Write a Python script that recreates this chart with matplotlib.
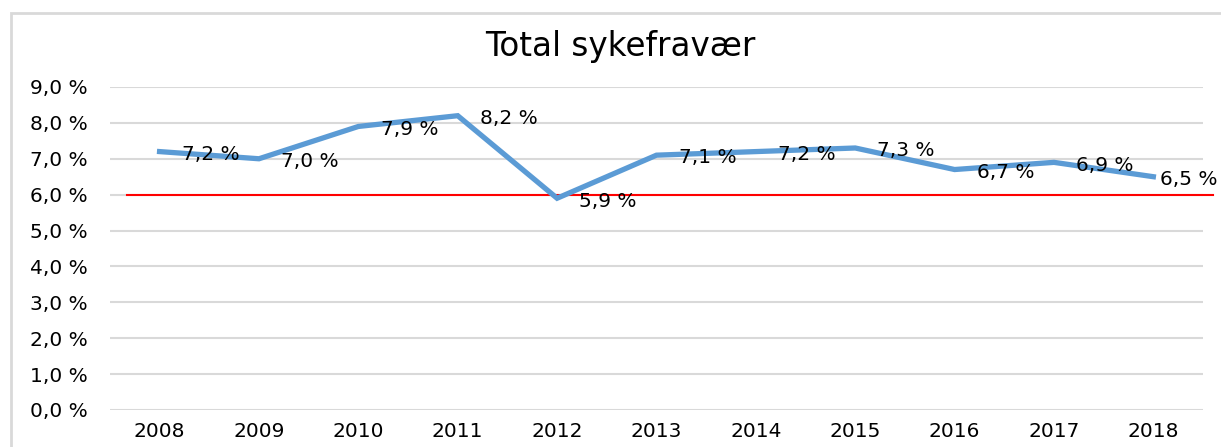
import matplotlib.pyplot as plt
from matplotlib.patches import Rectangle

# data
years = ['2008', '2009', '2010', '2011', '2012', '2013', '2014', '2015', '2016', '2017', '2018']
sick_leave = [7.2, 7.0, 7.9, 8.2, 5.9, 7.1, 7.2, 7.3, 6.7, 6.9, 6.5]
target = 6.0
yticks = [0, 1, 2, 3, 4, 5, 6, 7, 8, 9]

plt.rcParams['font.family'] = ['DejaVu Sans']

fig = plt.figure(figsize=(12.21, 4.47), dpi=100)
ax = fig.add_axes([0.090, 0.0828, 0.8953, 0.7226])

# light frame around the chart
fig.patches.append(Rectangle((11 / 1221, -0.1), 1.2, 1 - 13 / 447 + 0.1,
                             transform=fig.transFigure, fill=False,
                             edgecolor='#d9d9d9', linewidth=2))

x = list(range(len(years)))
ax.plot(x, sick_leave, color='#5b9bd5', linewidth=3.8, solid_joinstyle='miter', zorder=3)

# target line, runs a bit past the plot area on the right
ax.plot([-0.33, 10.6], [target, target], color='red', linewidth=1.5, clip_on=False, zorder=2)

for i, v in enumerate(sick_leave):
    dx = 16 if i < len(sick_leave) - 1 else 5  # last label pushed in to fit
    ax.annotate(f'{v:.1f} %'.replace('.', ','), (i, v), xytext=(dx, -2),
                textcoords='offset points', ha='left', va='center', fontsize=14.5)

ax.set_xlim(-0.5, 10.5)
ax.set_ylim(0, 9)
ax.set_xticks(x)
ax.set_xticklabels(years, fontsize=14.5)
ax.set_yticks(yticks)
ax.set_yticklabels([f'{t},0 %' for t in yticks], fontsize=14.5)
ax.tick_params(axis='both', length=0)
ax.tick_params(axis='y', pad=16)
ax.tick_params(axis='x', pad=9)
ax.grid(axis='y', color='#d9d9d9', linewidth=1.5)
ax.set_axisbelow(True)
for s in ax.spines.values():
    s.set_visible(False)

fig.text(0.508, 0.895, 'Total sykefravær', ha='center', va='center', fontsize=23.5)

fig.savefig('out.png', dpi=100)
